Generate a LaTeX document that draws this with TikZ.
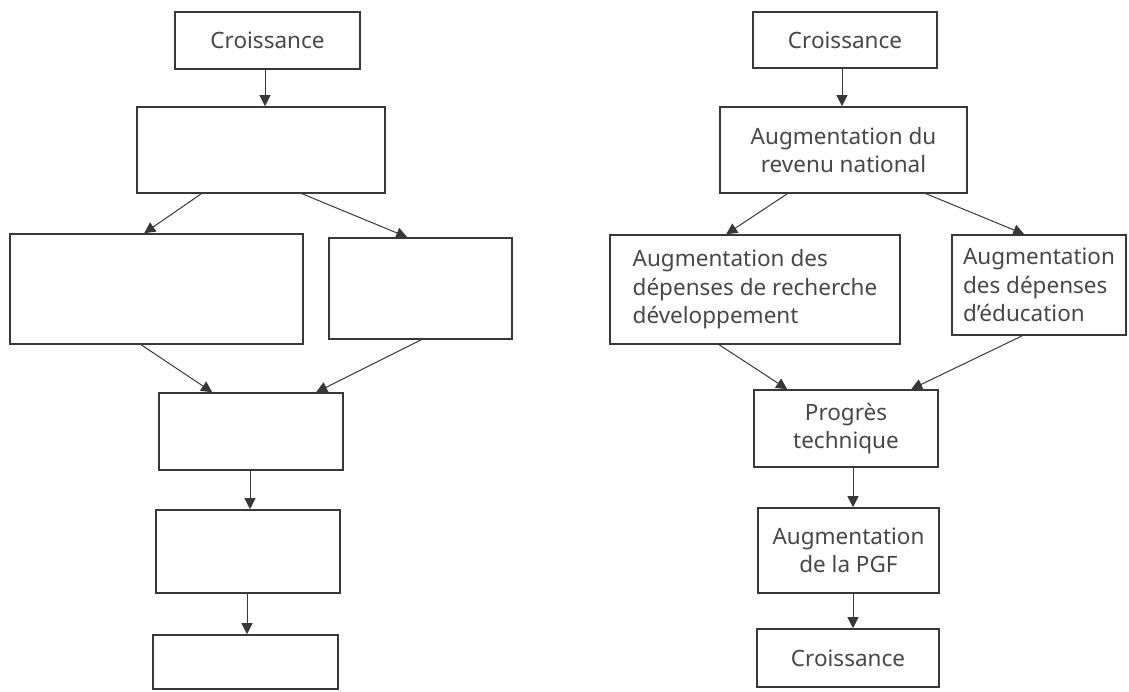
\documentclass[tikz,border=0pt]{standalone}
\usepackage{fontspec}
\setmainfont{Noto Sans}
\usetikzlibrary{arrows.meta}
\tikzset{
  box/.style={draw=black!78, line width=1.6pt, rectangle, inner sep=0pt, align=left,
    text=black!72, font=\fontsize{22.5}{28.5}\selectfont},
  arr/.style={draw=black!78, line width=1pt, -{Triangle[width=11pt,length=11pt]}}
}
\begin{document}
\begin{tikzpicture}[x=1pt,y=-1pt]
\useasboundingbox (0,0) rectangle (1129,691);
% left diagram (empty boxes)
\node[box, minimum width=185pt, minimum height=57pt] (L1) at (267.5,40.5) {Croissance};
\node[box, minimum width=248pt, minimum height=86pt] (L2) at (261,150) {};
\node[box, minimum width=293pt, minimum height=110pt] (L3) at (156.5,289) {};
\node[box, minimum width=183pt, minimum height=101pt] (L4) at (420.5,288.5) {};
\node[box, minimum width=184pt, minimum height=77pt] (L5) at (251,431.5) {};
\node[box, minimum width=184pt, minimum height=83pt] (L6) at (248,551.5) {};
\node[box, minimum width=185pt, minimum height=54pt] (L7) at (245.5,662) {};
\draw[arr] ([xshift=-2.5pt]L1.south) -- ([xshift=-2.5pt]L1.south |- L2.north);
\draw[arr] ([xshift=65pt]L2.south west) -- ([xshift=135pt]L3.north west);
\draw[arr] ([xshift=166pt]L2.south west) -- ([xshift=79pt]L4.north west);
\draw[arr] ([xshift=132pt]L3.south west) -- ([xshift=54pt]L5.north west);
\draw[arr] ([xshift=93pt]L4.south west) -- ([xshift=158pt]L5.north west);
\draw[arr] ([xshift=-1pt]L5.south) -- ([xshift=-1pt]L5.south |- L6.north);
\draw[arr] ([xshift=-1pt]L6.south) -- ([xshift=-1pt]L6.south |- L7.north);
% right diagram
\node[box, minimum width=184pt, minimum height=56pt] (R1) at (845,40) {Croissance};
\node[box, minimum width=247pt, minimum height=86pt, align=center] (R2) at (843.5,150) {Augmentation du\\revenu national};
\node[box, minimum width=290pt, minimum height=109pt] (R3) at (755,289.5) {Augmentation des\\dépenses de recherche\\développement};
\node[box, minimum width=174pt, minimum height=100pt] (R4) at (1039,285) {Augmentation\\des dépenses\\d’éducation};
\node[box, minimum width=184pt, minimum height=77pt, align=center] (R5) at (846,428.5) {Progrès\\technique};
\node[box, minimum width=181pt, minimum height=85pt, align=center] (R6) at (848.5,550.5) {Augmentation\\de la PGF};
\node[box, minimum width=182pt, minimum height=58pt] (R7) at (848,658) {Croissance};
\draw[arr] ([xshift=-3pt]R1.south) -- ([xshift=-3pt]R1.south |- R2.north);
\draw[arr] ([xshift=68pt]R2.south west) -- ([xshift=117pt]R3.north west);
\draw[arr] ([xshift=207pt]R2.south west) -- ([xshift=73pt]R4.north west);
\draw[arr] ([xshift=110pt]R3.south west) -- ([xshift=34pt]R5.north west);
\draw[arr] ([xshift=71pt]R4.south west) -- ([xshift=158pt]R5.north west);
\draw[arr] ([xshift=7pt]R5.south) -- ([xshift=7pt]R5.south |- R6.north);
\draw[arr] ([xshift=4.5pt]R6.south) -- ([xshift=4.5pt]R6.south |- R7.north);
\end{tikzpicture}
\end{document}
